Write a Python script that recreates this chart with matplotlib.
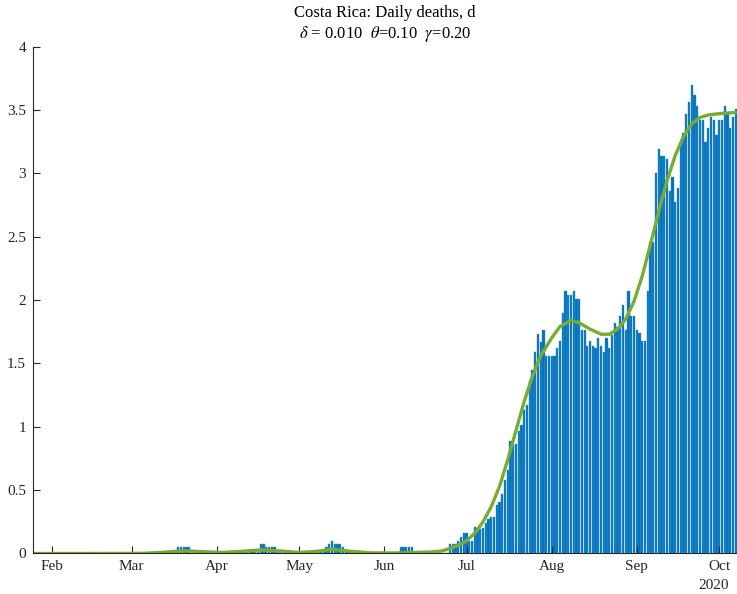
import numpy as np
import pandas as pd
import matplotlib
matplotlib.use("Agg")
import matplotlib.pyplot as plt
from matplotlib.transforms import blended_transform_factory

plt.rcParams['font.family'] = ['Liberation Serif', 'DejaVu Serif']
plt.rcParams['mathtext.fontset'] = 'stix'

# daily deaths (bars), one value per day from 1 Mar 2020
mar = [0, 0, 0, 0, 0, 0, 0, 0, 0, 0, 0, 0, 0, 0, 0, 0, 0,
       0.048, 0.048, 0.048, 0.048, 0.048, 0, 0, 0, 0, 0, 0, 0, 0, 0]
apr = [0, 0, 0, 0, 0.014, 0.014, 0.014, 0.014, 0.014, 0.014, 0.014, 0.014,
       0.014, 0.014, 0.014, 0.014, 0.071, 0.071, 0.048, 0.048, 0.048, 0.048,
       0.014, 0.014, 0, 0, 0, 0, 0, 0]
may = [0, 0, 0, 0, 0, 0, 0, 0.014, 0.014, 0.014, 0.048, 0.071, 0.10, 0.071,
       0.071, 0.071, 0.048, 0.014, 0.014, 0, 0, 0, 0, 0, 0, 0, 0, 0, 0, 0, 0]
jun = [0, 0, 0, 0, 0, 0, 0.048, 0.048, 0.048, 0.048, 0.048, 0, 0, 0, 0, 0,
       0, 0, 0, 0, 0, 0, 0, 0, 0.074, 0.074, 0.074, 0.10, 0.13, 0.16]
jul = [0.16, 0.10, 0.10, 0.21, 0.20, 0.19, 0.20, 0.24, 0.27, 0.29, 0.29,
       0.38, 0.41, 0.47, 0.58, 0.66, 0.89, 0.86, 0.86, 0.97, 1.01, 1.13,
       1.17, 1.37, 1.45, 1.59, 1.73, 1.67, 1.76, 1.56, 1.56]
aug = [1.56, 1.56, 1.62, 1.68, 1.90, 2.07, 2.04, 2.04, 2.07, 2.01, 2.01,
       1.76, 1.76, 1.64, 1.68, 1.64, 1.62, 1.70, 1.64, 1.59, 1.70, 1.62,
       1.72, 1.82, 1.79, 1.87, 1.96, 1.76, 2.07, 1.87, 1.87]
sep = [1.76, 1.74, 1.68, 1.68, 2.07, 2.46, 2.46, 3.00, 3.19, 3.14, 3.14,
       3.11, 2.86, 2.97, 2.77, 2.88, 3.25, 3.32, 3.47, 3.56, 3.70, 3.62,
       3.53, 3.42, 3.42, 3.25, 3.36, 3.44, 3.42, 3.30]
octo = [3.42, 3.42, 3.53, 3.47, 3.36, 3.44, 3.51]

# fitted curve, read at these dates
curve_dates = ["2020-01-25", "2020-02-15", "2020-03-05", "2020-03-12",
               "2020-03-20", "2020-03-28", "2020-04-03", "2020-04-10",
               "2020-04-17", "2020-04-24", "2020-05-01", "2020-05-07",
               "2020-05-13", "2020-05-20", "2020-05-27", "2020-06-05",
               "2020-06-12", "2020-06-18", "2020-06-22", "2020-06-25",
               "2020-06-28", "2020-07-01", "2020-07-04", "2020-07-07",
               "2020-07-10", "2020-07-13", "2020-07-16", "2020-07-19",
               "2020-07-22", "2020-07-25", "2020-07-28", "2020-08-01",
               "2020-08-04", "2020-08-08", "2020-08-11", "2020-08-15",
               "2020-08-19", "2020-08-22", "2020-08-25", "2020-08-28",
               "2020-08-31", "2020-09-03", "2020-09-06", "2020-09-09",
               "2020-09-12", "2020-09-15", "2020-09-18", "2020-09-21",
               "2020-09-24", "2020-09-27", "2020-10-01", "2020-10-07"]
curve_vals = [0.0, 0.0, 0.001, 0.009, 0.022, 0.013, 0.008, 0.017, 0.028,
              0.02, 0.008, 0.016, 0.033, 0.017, 0.005, 0.004, 0.008, 0.012,
              0.02, 0.04, 0.065, 0.10, 0.16, 0.25, 0.37, 0.53, 0.74, 0.97,
              1.20, 1.40, 1.56, 1.70, 1.79, 1.84, 1.82, 1.77, 1.73, 1.73,
              1.77, 1.85, 1.99, 2.19, 2.44, 2.70, 2.94, 3.14, 3.29, 3.39,
              3.44, 3.46, 3.47, 3.48]

month_ticks = ["2020-02-01", "2020-03-01", "2020-04-01", "2020-05-01",
               "2020-06-01", "2020-07-01", "2020-08-01", "2020-09-01",
               "2020-10-01"]
month_labels = ["Feb", "Mar", "Apr", "May", "Jun", "Jul", "Aug", "Sep", "Oct"]

deaths = mar + apr + may + jun + jul + aug + sep + octo
days = pd.date_range("2020-03-01", periods=len(deaths), freq="D")

fig = plt.figure(figsize=(7.37, 5.94), dpi=100)
ax = fig.add_axes([0.0448, 0.0682, 0.9552, 0.8535])

ax.bar(days, deaths, width=0.82, color="#0072BD", edgecolor="#3f95d2",
       linewidth=0.3)
ax.plot(pd.to_datetime(curve_dates), curve_vals, color="#77AC30", lw=2.4,
        solid_capstyle="round", solid_joinstyle="round")

ax.set_xlim(pd.Timestamp("2020-01-25 02:00"), pd.Timestamp("2020-10-07 12:00"))
ax.set_ylim(0, 4)
ax.set_yticks(np.arange(0, 4.01, 0.5))
ax.set_yticklabels(["0", "0.5", "1", "1.5", "2", "2.5", "3", "3.5", "4"])
ax.set_xticks(pd.to_datetime(month_ticks))
ax.set_xticklabels(month_labels)

for s in ["top", "right"]:
    ax.spines[s].set_visible(False)
for s in ["left", "bottom"]:
    ax.spines[s].set_color("#262626")
    ax.spines[s].set_linewidth(0.8)
ax.tick_params(direction="in", length=5, width=0.8, color="#262626",
               labelsize=11, labelcolor="#262626", pad=5)

tr = blended_transform_factory(ax.transData, ax.transAxes)
ax.text(pd.Timestamp("2020-09-29"), -0.063, "2020", transform=tr,
        ha="center", va="center", fontsize=11, color="#262626")

ax.set_title("Costa Rica: Daily deaths, d\n"
             r"$\delta$ = 0.010  $\theta$=0.10  $\gamma$=0.20",
             fontsize=12, pad=6, color="#000000", linespacing=1.25)

fig.savefig("out.png", dpi=100)
